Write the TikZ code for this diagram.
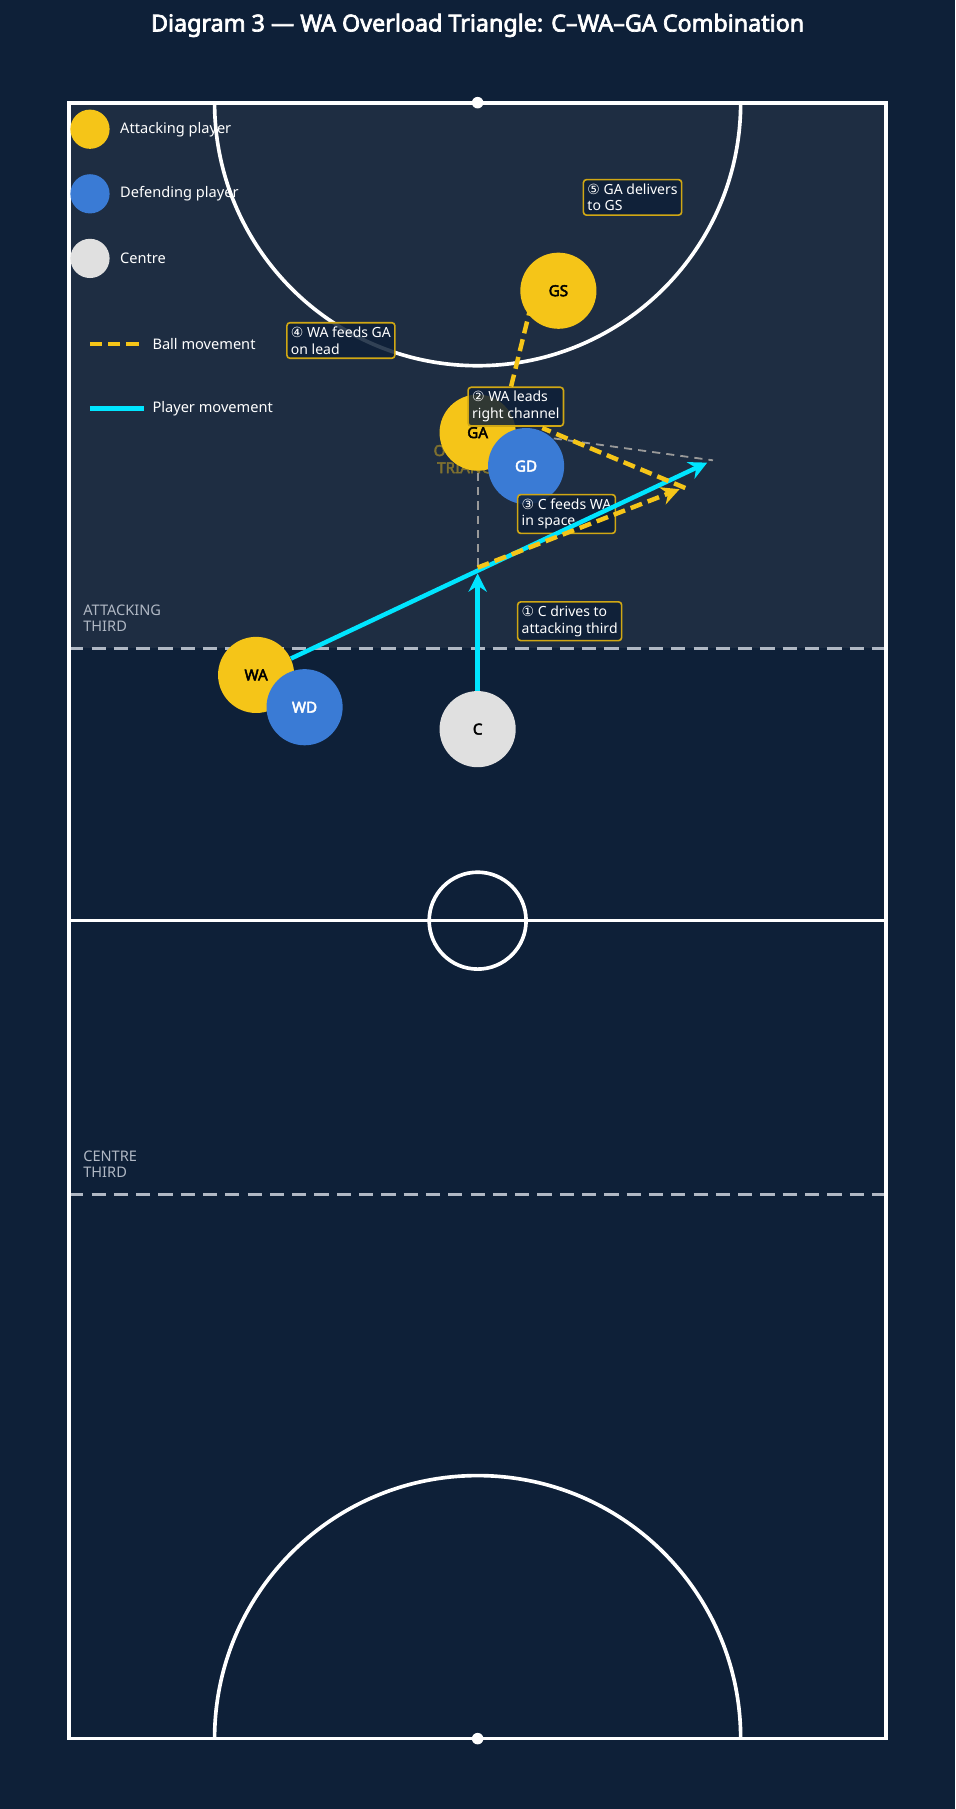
\documentclass[tikz,border=0pt]{standalone}
\usepackage{fontspec}
\setmainfont{Noto Sans}[BoldFont={Noto Sans}, BoldFeatures={FakeBold=3}]
\newfontfamily\symfont{DejaVu Sans}
\usetikzlibrary{arrows.meta}
\definecolor{bgcol}{HTML}{0E2038}
\definecolor{halfcol}{HTML}{1E2D42}
\definecolor{attcol}{HTML}{F5C518}
\definecolor{defcol}{HTML}{3A7BD5}
\definecolor{ctrcol}{HTML}{E0E0E0}
\definecolor{runcol}{HTML}{00E5FF}
\definecolor{zonecol}{HTML}{B0B8C4}
\tikzset{
  player/.style = {circle, inner sep=0pt, minimum size=66*0.02cm,
    font=\fontsize{7.5}{8}\selectfont\bfseries},
  attacker/.style = {player, fill=attcol, text=black},
  defender/.style = {player, fill=defcol, text=white},
  centre/.style = {player, fill=ctrcol, text=black},
  legdot/.style = {circle, inner sep=0pt, minimum size=34*0.02cm},
  legtext/.style = {anchor=west, text=white, font=\fontsize{7.2}{8}\selectfont},
  stepbox/.style = {draw=attcol!85!black, fill=bgcol, fill opacity=0.85, text opacity=1,
    rounded corners=1.5pt, thick, text=white, align=left, inner sep=2pt,
    font=\fontsize{6.9}{8.2}\selectfont},
  zone/.style = {text=zonecol, align=left, anchor=north west,
    font=\fontsize{7.2}{8.2}\selectfont},
  court/.style = {white, line width=1.8pt},
  ball/.style = {attcol, line width=2.2pt, dash pattern=on 6pt off 3pt},
  run/.style = {runcol, line width=2.2pt},
  guide/.style = {gray!80, line width=0.9pt, dash pattern=on 4pt off 3pt},
}
\newcommand{\circnum}[1]{{\symfont #1}}
\begin{document}
\begin{tikzpicture}[x=0.02cm,y=-0.02cm]
\fill[bgcol] (0,0) rectangle (828,1568);
\useasboundingbox (0,0) rectangle (828,1568);
\node[text=white, font=\fontsize{11.5}{13}\selectfont\bfseries] (title) at (414,22)
  {Diagram 3 — WA Overload Triangle: C–WA–GA Combination};

% court
\fill[halfcol] (60,89) rectangle (768,562);
\draw[court] (186,89) arc[start angle=180, end angle=0, radius=228];
\draw[court] (186,1507) arc[start angle=180, end angle=360, radius=228];
\draw[court] (60,798) -- (768,798);
\draw[court] (414,798) circle (42);
\draw[zonecol, line width=1.5pt, dash pattern=on 7pt off 4pt] (60,562) -- (768,562);
\draw[zonecol, line width=1.5pt, dash pattern=on 7pt off 4pt] (60,1035) -- (768,1035);
\draw[court] (60,89) rectangle (768,1507);
\fill[white] (414,89) circle (5) (414,1507) circle (5);
\node[zone] (attthird) at (66,518) {ATTACKING\\THIRD};
\node[zone] (ctrthird) at (66,991) {CENTRE\\THIRD};

% legend
\node[legdot, fill=attcol] (legA) at (78,112) {};
\node[legtext] at (98,112) {Attacking player};
\node[legdot, fill=defcol] (legD) at (78,168) {};
\node[legtext] at (98,168) {Defending player};
\node[legdot, fill=ctrcol] (legC) at (78,224) {};
\node[legtext] at (98,224) {Centre};
\coordinate (ballA) at (78,298);
\coordinate (ballB) at (125,298);
\draw[ball] (ballA) -- (ballB);
\node[legtext] at (126,298) {Ball movement};
\coordinate (runA) at (78,354);
\coordinate (runB) at (125,354);
\draw[run] (runA) -- (runB);
\node[legtext] at (126,354) {Player movement};

% triangle guide
\node[text=attcol!45!halfcol, align=center, font=\fontsize{7.5}{8.5}\selectfont\bfseries]
  (trilabel) at (410,398) {OVERLOAD\\TRIANGLE};
\coordinate (tA) at (414,410);
\coordinate (tB) at (414,492);
\coordinate (tC) at (480,380);
\coordinate (tD) at (618,399);
\draw[guide] (tA) -- (tB);
\draw[guide] (tC) -- (tD);

% players
\node[attacker] (GS) at (484,252) {GS};
\node[attacker] (GA) at (414,375) {GA};
\node[defender] (GD) at (456,404) {GD};
\node[attacker] (WA) at (222,585) {WA};
\node[defender] (WD) at (264,613) {WD};
\node[centre] (C) at (414,632) {C};

% steps
\node[stepbox, anchor=north west] (s5) at (505,155) {\circnum{⑤} GA delivers\\to GS};
\node[stepbox, anchor=north west] (s4) at (248,279) {\circnum{④} WA feeds GA\\on lead};
\node[stepbox, anchor=north west] (s2) at (405,335) {\circnum{②} WA leads\\right channel};
\node[stepbox, anchor=north west] (s3) at (448,428) {\circnum{③} C feeds WA\\in space};
\node[stepbox, anchor=north west] (s1) at (448,521) {\circnum{①} C drives to\\attacking third};

% movement
\coordinate (Cdrive) at (414,497);
\coordinate (WAlead) at (613,401);
\coordinate (Cpass) at (414,492);
\coordinate (WApass) at (589,424);
\coordinate (WAfeed) at (594,423);
\coordinate (GAfeed) at (470,371);
\coordinate (GApass) at (443,335);
\coordinate (GSin) at (459,270);
\draw[run, -{Stealth[length=9pt,width=9pt]}] (C) -- (Cdrive);
\draw[run, -{Stealth[length=9pt,width=9pt]}] (WA) -- (WAlead);
\draw[ball, -{Stealth[length=9pt,width=9pt]}] (Cpass) -- (WApass);
\draw[ball] (WAfeed) -- (GAfeed);
\draw[ball] (GApass) -- (GSin);
\end{tikzpicture}
\end{document}
